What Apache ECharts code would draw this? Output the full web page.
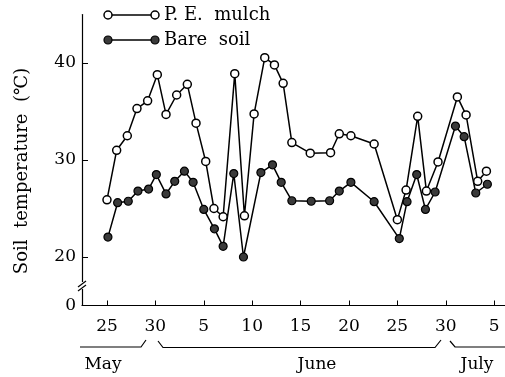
<!DOCTYPE html>
<html>
<head>
<meta charset="utf-8">
<script src="https://cdn.jsdelivr.net/npm/echarts@6/dist/echarts.min.js"></script>
<style>
html,body{margin:0;padding:0;background:#fff;}
#c{width:505px;height:377px;}
</style>
</head>
<body>
<div id="c"></div>
<script>
// x = days after May 25 (tick every 5 days)
const tickPositions = [0, 5, 10, 15, 20, 25, 30, 35, 40];
const tickLabels = ['25', '30', '5', '10', '15', '20', '25', '30', '5'];
const months = ['May', 'June', 'July'];

const peDays = [0.0,1.0,2.1,3.1,4.2,5.2,6.1,7.2,8.3,9.2,10.2,11.05,12.0,13.2,14.2,15.2,16.3,17.3,18.2,19.1,21.0,23.1,24.0,25.2,27.6,30.0,30.9,32.1,33.0,34.2,36.2,37.1,38.3,39.2];
const peTemp = [25.9,31.0,32.5,35.3,36.1,38.8,34.7,36.7,37.8,33.8,29.85,25.0,24.15,38.9,24.25,34.75,40.55,39.8,37.9,31.8,30.7,30.75,32.7,32.5,31.65,23.85,26.9,34.5,26.8,29.8,36.5,34.65,27.8,28.85];

const bareDays = [0.1,1.1,2.2,3.2,4.3,5.1,6.1,7.0,8.0,8.9,10.0,11.1,12.0,13.1,14.1,15.9,17.1,18.0,19.1,21.1,23.0,24.0,25.2,27.6,30.2,31.0,32.0,32.9,33.9,36.0,36.9,38.1,39.3];
const bareTemp = [22.05,25.6,25.75,26.8,27.0,28.5,26.5,27.8,28.85,27.7,24.9,22.9,21.1,28.6,20.0,28.7,29.5,27.7,25.8,25.75,25.8,26.8,27.7,25.7,21.9,25.7,28.5,24.9,26.7,33.5,32.4,26.6,27.5];

const yLabelValues = [15, 20, 30, 40]; // 15 drawn as "0" (broken axis)
const yTickValues = [20, 30, 40];

const FONT = 'DejaVu Serif';
const chart = echarts.init(document.getElementById('c'), null, {renderer: 'canvas'});

const zip = (a, b) => a.map((v, i) => [v, b[i]]);

const option = {
  animation: false,
  backgroundColor: '#fff',
  grid: {left: 82, right: 0, top: 14.5, bottom: 71.5},
  xAxis: {
    type: 'value', min: -2.58, max: 41.12,
    splitLine: {show: false},
    axisLine: {onZero: false, lineStyle: {color: '#000', width: 1.2}},
    axisTick: {inside: true, length: 5, customValues: tickPositions, lineStyle: {color: '#000'}},
    axisLabel: {
      customValues: tickPositions, margin: 13,
      color: '#000', fontFamily: FONT, fontSize: 17,
      formatter: v => tickLabels[tickPositions.indexOf(v)]
    }
  },
  yAxis: {
    type: 'value', min: 15, max: 45, interval: 5,
    splitLine: {show: false},
    axisLine: {show: true, onZero: false, lineStyle: {color: '#000', width: 1.2}},
    axisTick: {inside: true, length: 6, customValues: yTickValues, lineStyle: {color: '#000'}},
    axisLabel: {
      customValues: yLabelValues, margin: 6,
      color: '#000', fontFamily: FONT, fontSize: 17,
      formatter: v => (v === 15 ? '0' : String(v))
    }
  },
  series: [
    {
      name: 'Bare soil', type: 'line', data: zip(bareDays, bareTemp),
      symbol: 'circle', symbolSize: 8,
      lineStyle: {color: '#000', width: 1.5},
      itemStyle: {color: '#3a3a3a', borderColor: '#000', borderWidth: 1.2},
      z: 2
    },
    {
      name: 'P. E. mulch', type: 'line', data: zip(peDays, peTemp),
      symbol: 'circle', symbolSize: 8,
      lineStyle: {color: '#000', width: 1.5},
      itemStyle: {color: '#fff', borderColor: '#000', borderWidth: 1.5},
      z: 3
    }
  ],
  graphic: [
    // legend
    {type: 'line', shape: {x1: 108, y1: 15, x2: 155, y2: 15}, style: {stroke: '#000', lineWidth: 1.5}},
    {type: 'circle', shape: {cx: 108, cy: 15, r: 4}, style: {fill: '#fff', stroke: '#000', lineWidth: 1.5}},
    {type: 'circle', shape: {cx: 155, cy: 15, r: 4}, style: {fill: '#fff', stroke: '#000', lineWidth: 1.5}},
    {type: 'text', x: 164, y: 15, style: {text: 'P. E.  mulch', font: '18px "DejaVu Serif"', fill: '#000', verticalAlign: 'middle'}},
    {type: 'line', shape: {x1: 108, y1: 40, x2: 155, y2: 40}, style: {stroke: '#000', lineWidth: 1.5}},
    {type: 'circle', shape: {cx: 108, cy: 40, r: 4}, style: {fill: '#3a3a3a', stroke: '#000', lineWidth: 1.2}},
    {type: 'circle', shape: {cx: 155, cy: 40, r: 4}, style: {fill: '#3a3a3a', stroke: '#000', lineWidth: 1.2}},
    {type: 'text', x: 164, y: 40, style: {text: 'Bare  soil', font: '18px "DejaVu Serif"', fill: '#000', verticalAlign: 'middle'}},
    // y axis title
    {type: 'text', x: 22, y: 171, rotation: Math.PI / 2,
     style: {text: 'Soil  temperature  (℃)', font: '18px "DejaVu Serif"', fill: '#000', align: 'center', verticalAlign: 'middle'}},
    // axis break
    {type: 'rect', shape: {x: 78, y: 282, width: 8, height: 7}, style: {fill: '#fff'}, z: 100},
    {type: 'line', shape: {x1: 78, y1: 287, x2: 86, y2: 281}, style: {stroke: '#000', lineWidth: 1.2}, z: 101},
    {type: 'line', shape: {x1: 78, y1: 291, x2: 86, y2: 285}, style: {stroke: '#000', lineWidth: 1.2}, z: 101},
    // month brackets
    {type: 'polyline', shape: {points: [[80, 347], [141, 347], [146, 340]]}, style: {stroke: '#000', lineWidth: 1.2, fill: null}},
    {type: 'polyline', shape: {points: [[158, 341], [163, 347.5], [435, 347.5], [441, 340]]}, style: {stroke: '#000', lineWidth: 1.2, fill: null}},
    {type: 'polyline', shape: {points: [[450, 341], [455, 347], [505, 347]]}, style: {stroke: '#000', lineWidth: 1.2, fill: null}},
    {type: 'text', x: 103, y: 365, style: {text: months[0], font: '17px "DejaVu Serif"', fill: '#000', align: 'center', verticalAlign: 'middle'}},
    {type: 'text', x: 317, y: 365, style: {text: months[1], font: '17px "DejaVu Serif"', fill: '#000', align: 'center', verticalAlign: 'middle'}},
    {type: 'text', x: 477, y: 365, style: {text: months[2], font: '17px "DejaVu Serif"', fill: '#000', align: 'center', verticalAlign: 'middle'}}
  ]
};
chart.setOption(option);
</script>
</body>
</html>
